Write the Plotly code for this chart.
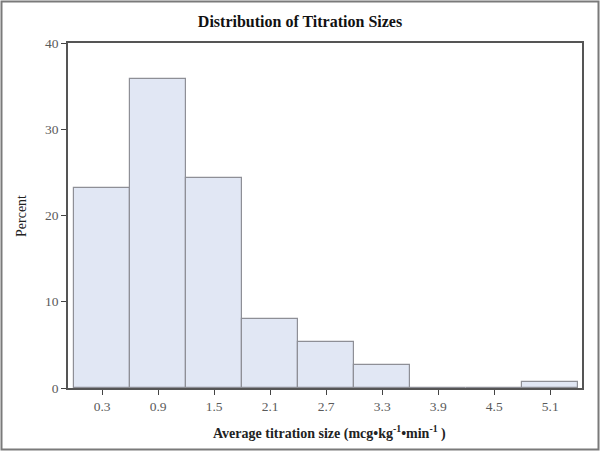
import plotly.graph_objects as go

bin_centers = [0.3, 0.9, 1.5, 2.1, 2.7, 3.3, 3.9, 4.5, 5.1]
percent = [23.2, 35.8, 24.4, 8.0, 5.3, 2.7, 0.0, 0.0, 0.7]
y_ticks = [0, 10, 20, 30, 40]

W, H = 600, 451
L, R, T, B = 68, 18, 43, 63
pw, ph = W - L - R, H - T - B

fig = go.Figure()
fig.add_trace(
    go.Bar(
        x=bin_centers,
        y=percent,
        width=0.6,
        marker=dict(color="#e1e7f4", line=dict(color="#8e8f96", width=1.2)),
        showlegend=False,
    )
)

serif = "Liberation Serif"
fig.update_layout(
    width=W,
    height=H,
    margin=dict(l=L, r=R, t=T, b=B, autoexpand=False),
    paper_bgcolor="white",
    plot_bgcolor="white",
    font=dict(family=serif, color="#333333"),
    title=dict(
        text="<b>Distribution of Titration Sizes</b>",
        x=0.5,
        xanchor="center",
        y=1 - 21 / H,
        yanchor="middle",
        font=dict(family=serif, size=16, color="#111111"),
    ),
    bargap=0,
)
axis_style = dict(
    ticks="outside",
    ticklen=5,
    tickcolor="#444444",
    tickfont=dict(family=serif, size=13.5, color="#5a5a5a"),
    showline=True,
    linecolor="#555555",
    linewidth=1.5,
    mirror=True,
    showgrid=False,
    zeroline=False,
    automargin=False,
)
fig.update_xaxes(
    range=[-0.065, 5.44],
    tickvals=bin_centers,
    ticktext=[f"{v:.1f}" for v in bin_centers],
    **axis_style,
)
fig.update_yaxes(range=[0, 40], tickvals=y_ticks, **axis_style)

fig.add_annotation(
    text="<b>Average titration size (mcg•kg<sup>-1</sup>•min<sup>-1</sup> )</b>",
    xref="paper", yref="paper",
    x=(329 - L) / pw, y=-(432 - (H - B)) / ph,
    xanchor="center", yanchor="middle",
    showarrow=False,
    font=dict(family=serif, size=14, color="#222222"),
)
fig.add_annotation(
    text="Percent",
    xref="paper", yref="paper",
    x=-(L - 22) / pw, y=(H - B - 216) / ph,
    xanchor="center", yanchor="middle",
    textangle=-90,
    showarrow=False,
    font=dict(family=serif, size=14, color="#222222"),
)

# outer frame around the whole picture
fig.add_shape(
    type="rect",
    xref="paper",
    yref="paper",
    x0=(1.5 - L) / pw,
    x1=(W - 1.5 - L) / pw,
    y0=-(B - 1.5) / ph,
    y1=1 + (T - 1.5) / ph,
    line=dict(color="#7a7a7a", width=2),
    layer="above",
)

# drop the default 8px page margin so the figure fills the window
fig.write_html(
    "out.html",
    config={"displayModeBar": False},
    post_script="document.body.style.margin='0';document.body.style.overflow='hidden';",
)
